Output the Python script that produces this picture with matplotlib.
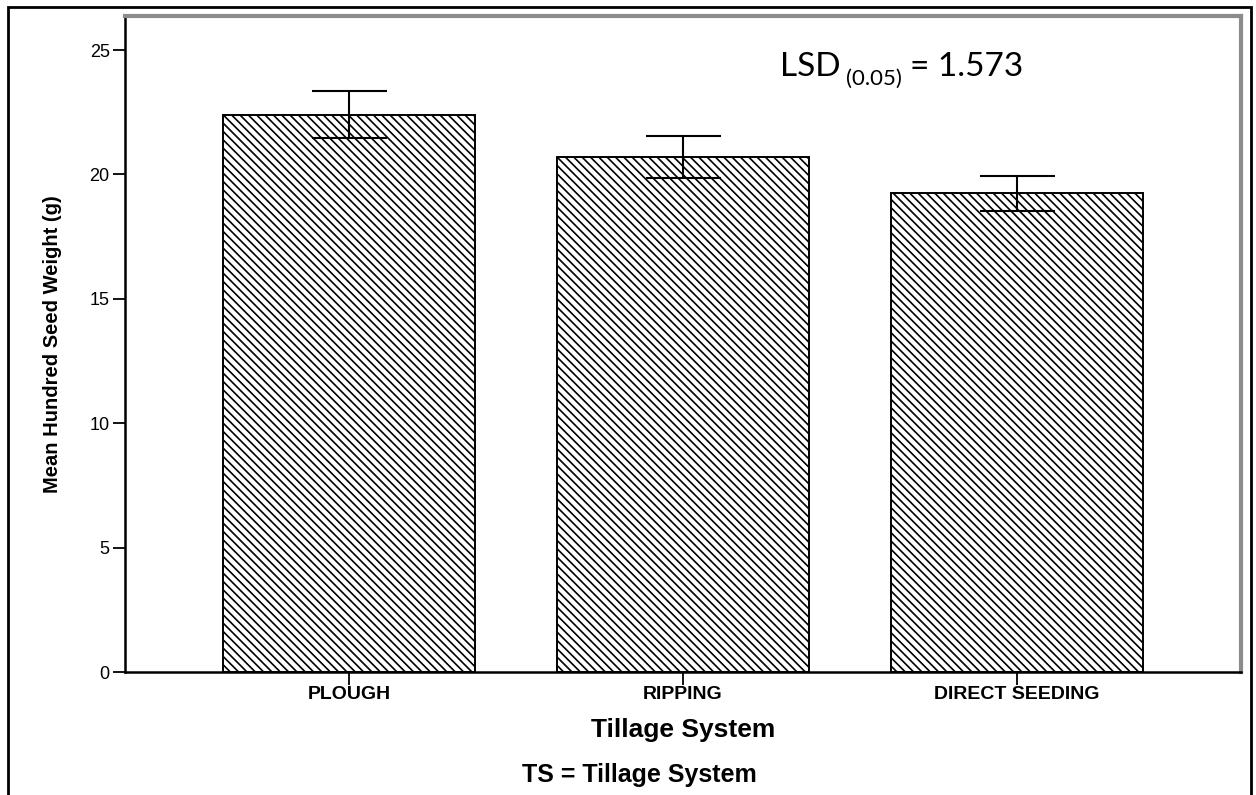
import matplotlib
matplotlib.use('Agg')
import matplotlib.pyplot as plt
from matplotlib.patches import Rectangle

# mean hundred seed weight per tillage system, with error bar half-widths
systems = ['PLOUGH', 'RIPPING', 'DIRECT SEEDING']
means = [22.40, 20.70, 19.24]
errors = [0.94, 0.84, 0.71]
yticks = [0, 5, 10, 15, 20, 25]
lsd_value = '1.573'

plt.rcParams['font.family'] = ['Liberation Sans', 'DejaVu Sans']
plt.rcParams['hatch.linewidth'] = 1.2

fig = plt.figure(figsize=(12.56, 7.95), dpi=100)
ax = fig.add_axes([0.0995, 0.1547, 0.8886, 0.8252])

x = list(range(len(systems)))
# repeated backslashes -> dense diagonal hatching
ax.bar(x, means, width=0.753, color='white', edgecolor='black',
       linewidth=1.4, hatch=chr(92) * 4, zorder=2)
ax.errorbar(x, means, yerr=errors, fmt='none', ecolor='black',
            elinewidth=1.5, capsize=27, capthick=1.5, zorder=3)

ax.set_xlim(-0.67, 2.67)
ax.set_ylim(0, 26.37)
ax.set_yticks(yticks)
ax.set_xticks(x)
ax.set_xticklabels(systems, fontweight='bold', fontsize=14)
ax.tick_params(axis='y', labelsize=13, length=9, width=1.3, pad=2)
ax.tick_params(axis='x', length=9, width=1.3, pad=1)

ax.spines['left'].set_linewidth(1.8)
ax.spines['bottom'].set_linewidth(1.8)
for side in ['top', 'right']:
    ax.spines[side].set_color('#8c8c8c')
    ax.spines[side].set_linewidth(3)

ax.set_xlabel('Tillage System', fontweight='bold', fontsize=19, labelpad=11)
ax.set_ylabel('Mean Hundred Seed Weight (g)', fontweight='bold', fontsize=14.5,
              labelpad=20)

# footnote under the axis title
fig.text(0.509, 0.016, 'TS = Tillage System', fontweight='bold', fontsize=18,
         ha='center', va='baseline')

# LSD note: main text, lowered subscript, then the value
fig.canvas.draw()
renderer = fig.canvas.get_renderer()
base_y = 1 - 76 / 795
t1 = fig.text(780 / 1256, base_y, 'LSD', family=['Lato', 'DejaVu Sans'],
              fontsize=24, va='baseline')
fig.canvas.draw()
x1 = t1.get_window_extent(renderer).x1
t2 = fig.text((x1 + 5) / 1256, 1 - 85 / 795, '(0.05)',
              family=['Lato', 'DejaVu Sans'], fontsize=16, va='baseline')
fig.canvas.draw()
x2 = t2.get_window_extent(renderer).x1
fig.text((x2 + 9) / 1256, base_y, '= ' + lsd_value,
         family=['Lato', 'DejaVu Sans'], fontsize=24, va='baseline')

# outer frame around the whole figure
fig.patches.append(Rectangle((8 / 1256, -0.05), 1243 / 1256, 1.05 - 7 / 795,
                             transform=fig.transFigure, fill=False,
                             edgecolor='black', linewidth=2))

fig.savefig('out.png', dpi=100)
